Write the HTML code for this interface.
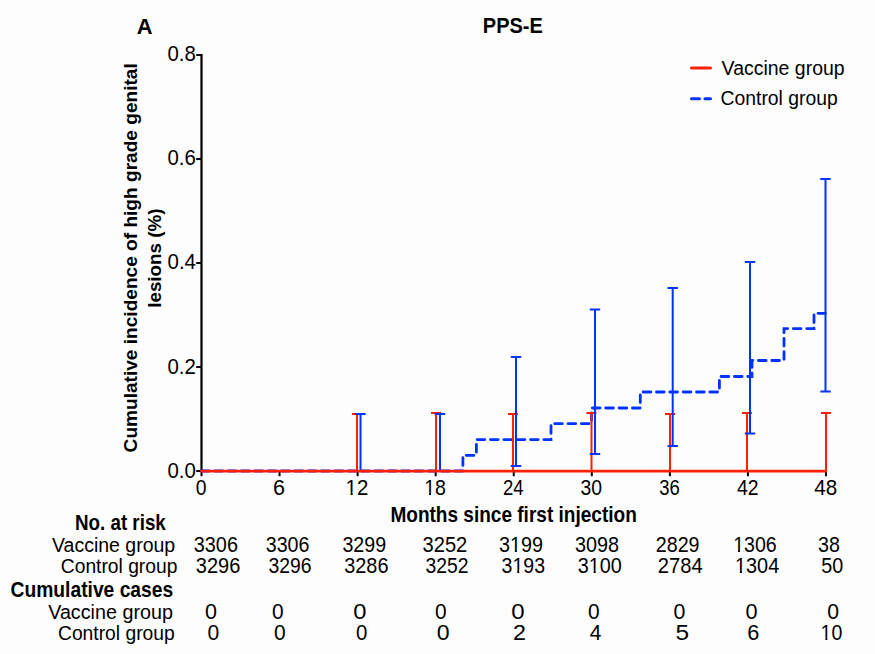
<!DOCTYPE html>
<html><head><meta charset="utf-8"><style>
html,body{margin:0;padding:0;background:#fdfdfd;}
svg{display:block;}
text{font-family:"Liberation Sans",sans-serif;font-size:20px;fill:#000;}
</style></head><body>
<svg width="875" height="654" viewBox="0 0 875 654">
<rect x="0" y="0" width="875" height="654" fill="#fdfdfd"/>
<g stroke="#000" stroke-width="2" fill="none">
<path d="M201.5 54 V471 H826" stroke-width="2.2"/>
<path d="M196.2 55.00 H201.5"/>
<path d="M196.2 159.00 H201.5"/>
<path d="M196.2 263.00 H201.5"/>
<path d="M196.2 367.00 H201.5"/>
<path d="M196.2 471.00 H201.5"/>
<path d="M201.50 471 V476.2"/>
<path d="M279.56 471 V476.2"/>
<path d="M357.62 471 V476.2"/>
<path d="M435.68 471 V476.2"/>
<path d="M513.74 471 V476.2"/>
<path d="M591.80 471 V476.2"/>
<path d="M669.86 471 V476.2"/>
<path d="M747.92 471 V476.2"/>
<path d="M825.98 471 V476.2"/>
</g>
<path d="M201.5 471 H462.9 V455.4 H476.4 V439.6 H551 V423.7 H591.5 V408 H640.3 V392 H719.4 V376.5 H752 V360.5 H784 V328.6 H814 V313.3 H825.4" fill="none" stroke="#0033ff" stroke-width="2.8" stroke-dasharray="7.7 5.649" stroke-dashoffset="0" stroke-linecap="round"/>
<g stroke="#ff2000" stroke-width="2" fill="none">
<path d="M357 471 V413 M352 414 H362"/>
<path d="M436 471 V412 M431 413 H441"/>
<path d="M513 471 V413 M508 414 H518"/>
<path d="M591.5 471 V412 M586.5 413 H596.5"/>
<path d="M670 471 V413 M665 414 H675"/>
<path d="M747 471 V412 M742 413 H752"/>
<path d="M826 471 V412 M821 413 H831"/>
</g>
<g stroke="#0033ff" stroke-width="2" fill="none">
<path d="M360.5 471 V413 M355.3 414 H365.7 M355.3 471 H365.7"/>
<path d="M440 471 V413 M434.8 414 H445.2 M434.8 471 H445.2"/>
<path d="M516 466 V356 M510.8 357 H521.2 M510.8 466 H521.2"/>
<path d="M595 454 V308.5 M589.8 309.5 H600.2 M589.8 454 H600.2"/>
<path d="M672.7 446 V287 M667.5 288 H677.9000000000001 M667.5 446 H677.9000000000001"/>
<path d="M750 433.4 V261 M744.8 262 H755.2 M744.8 433.4 H755.2"/>
<path d="M825.5 391.6 V178 M820.3 179 H830.7 M820.3 391.6 H830.7"/>
</g>
<path d="M200.4 471.1 H827" stroke="#ff2000" stroke-width="2.7" fill="none"/>
<path d="M691.5 67.9 H710.5" stroke="#ff2000" stroke-width="3" stroke-linecap="round"/>
<path d="M691.5 98.7 H710.5" stroke="#0033ff" stroke-width="3" stroke-linecap="round" stroke-dasharray="8.0 5.4"/>
<text transform="translate(136.80,33.80) scale(1,1.06)" font-weight="bold" textLength="15.81" lengthAdjust="spacingAndGlyphs">A</text>
<text transform="translate(482.80,33.00) scale(1,1.06)" font-weight="bold" textLength="60.01" lengthAdjust="spacingAndGlyphs">PPS-E</text>
<text transform="translate(167.50,60.70) scale(1,1.06)"  textLength="28.37" lengthAdjust="spacingAndGlyphs">0.8</text>
<text transform="translate(167.50,164.78) scale(1,1.06)"  textLength="28.37" lengthAdjust="spacingAndGlyphs">0.6</text>
<text transform="translate(167.50,269.15) scale(1,1.06)"  textLength="28.45" lengthAdjust="spacingAndGlyphs">0.4</text>
<text transform="translate(167.50,373.62) scale(1,1.06)"  textLength="28.37" lengthAdjust="spacingAndGlyphs">0.2</text>
<text transform="translate(167.50,477.90) scale(1,1.06)"  textLength="28.37" lengthAdjust="spacingAndGlyphs">0.0</text>
<text transform="translate(195.80,494.60) scale(1,1.06)"  textLength="10.76" lengthAdjust="spacingAndGlyphs">0</text>
<text transform="translate(272.88,494.60) scale(1,1.06)"  textLength="12.01" lengthAdjust="spacingAndGlyphs">6</text>
<text transform="translate(345.56,494.60) scale(1,1.06)"  textLength="22.73" lengthAdjust="spacingAndGlyphs">12</text>
<text transform="translate(424.24,494.60) scale(1,1.06)"  textLength="21.75" lengthAdjust="spacingAndGlyphs">18</text>
<text transform="translate(502.92,494.60) scale(1,1.06)"  textLength="20.61" lengthAdjust="spacingAndGlyphs">24</text>
<text transform="translate(580.60,494.60) scale(1,1.06)"  textLength="21.54" lengthAdjust="spacingAndGlyphs">30</text>
<text transform="translate(659.28,494.60) scale(1,1.06)"  textLength="20.56" lengthAdjust="spacingAndGlyphs">36</text>
<text transform="translate(736.96,494.60) scale(1,1.06)"  textLength="21.65" lengthAdjust="spacingAndGlyphs">42</text>
<text transform="translate(814.24,494.60) scale(1,1.06)"  textLength="22.93" lengthAdjust="spacingAndGlyphs">48</text>
<text x="721.60" y="75.00"  textLength="123.09" lengthAdjust="spacingAndGlyphs">Vaccine group</text>
<text x="720.60" y="104.50"  textLength="117.06" lengthAdjust="spacingAndGlyphs">Control group</text>
<text transform="translate(390.40,521.60) scale(1,1.08)" font-weight="bold" textLength="246.37" lengthAdjust="spacingAndGlyphs">Months since first injection</text>
<text transform="translate(75.00,529.80) scale(1,1.08)" font-weight="bold" textLength="90.79" lengthAdjust="spacingAndGlyphs">No. at risk</text>
<text x="52.00" y="551.90"  textLength="123.18" lengthAdjust="spacingAndGlyphs">Vaccine group</text>
<text x="60.80" y="572.70"  textLength="116.57" lengthAdjust="spacingAndGlyphs">Control group</text>
<text transform="translate(10.60,596.50) scale(1,1.08)" font-weight="bold" textLength="162.57" lengthAdjust="spacingAndGlyphs">Cumulative cases</text>
<text x="48.20" y="618.70"  textLength="124.70" lengthAdjust="spacingAndGlyphs">Vaccine group</text>
<text x="58.00" y="639.90"  textLength="116.72" lengthAdjust="spacingAndGlyphs">Control group</text>
<text transform="translate(193.80,551.90) scale(1,1.06)"  textLength="44.16" lengthAdjust="spacingAndGlyphs">3306</text>
<text transform="translate(265.80,551.90) scale(1,1.06)"  textLength="43.59" lengthAdjust="spacingAndGlyphs">3306</text>
<text transform="translate(342.40,551.90) scale(1,1.06)"  textLength="43.66" lengthAdjust="spacingAndGlyphs">3299</text>
<text transform="translate(422.60,551.90) scale(1,1.06)"  textLength="44.70" lengthAdjust="spacingAndGlyphs">3252</text>
<text transform="translate(499.00,551.90) scale(1,1.06)"  textLength="44.06" lengthAdjust="spacingAndGlyphs">3199</text>
<text transform="translate(575.00,551.90) scale(1,1.06)"  textLength="44.06" lengthAdjust="spacingAndGlyphs">3098</text>
<text transform="translate(655.80,551.90) scale(1,1.06)"  textLength="43.73" lengthAdjust="spacingAndGlyphs">2829</text>
<text transform="translate(733.20,551.90) scale(1,1.06)"  textLength="43.48" lengthAdjust="spacingAndGlyphs">1306</text>
<text transform="translate(818.00,551.90) scale(1,1.06)"  textLength="21.89" lengthAdjust="spacingAndGlyphs">38</text>
<text transform="translate(195.80,572.60) scale(1,1.06)"  textLength="44.58" lengthAdjust="spacingAndGlyphs">3296</text>
<text transform="translate(268.40,572.60) scale(1,1.06)"  textLength="43.08" lengthAdjust="spacingAndGlyphs">3296</text>
<text transform="translate(344.20,572.60) scale(1,1.06)"  textLength="44.25" lengthAdjust="spacingAndGlyphs">3286</text>
<text transform="translate(425.40,572.60) scale(1,1.06)"  textLength="43.03" lengthAdjust="spacingAndGlyphs">3252</text>
<text transform="translate(501.60,572.60) scale(1,1.06)"  textLength="43.39" lengthAdjust="spacingAndGlyphs">3193</text>
<text transform="translate(577.80,572.60) scale(1,1.06)"  textLength="44.06" lengthAdjust="spacingAndGlyphs">3100</text>
<text transform="translate(657.80,572.60) scale(1,1.06)"  textLength="44.79" lengthAdjust="spacingAndGlyphs">2784</text>
<text transform="translate(735.00,572.60) scale(1,1.06)"  textLength="44.21" lengthAdjust="spacingAndGlyphs">1304</text>
<text transform="translate(821.20,572.60) scale(1,1.06)"  textLength="21.99" lengthAdjust="spacingAndGlyphs">50</text>
<text transform="translate(205.00,618.80) scale(1,1.06)"  textLength="12.00" lengthAdjust="spacingAndGlyphs">0</text>
<text transform="translate(272.00,618.80) scale(1,1.06)"  textLength="11.64" lengthAdjust="spacingAndGlyphs">0</text>
<text transform="translate(353.20,618.80) scale(1,1.06)"  textLength="13.20" lengthAdjust="spacingAndGlyphs">0</text>
<text transform="translate(435.00,618.80) scale(1,1.06)"  textLength="11.64" lengthAdjust="spacingAndGlyphs">0</text>
<text transform="translate(511.20,618.80) scale(1,1.06)"  textLength="13.37" lengthAdjust="spacingAndGlyphs">0</text>
<text transform="translate(588.00,618.80) scale(1,1.06)"  textLength="11.64" lengthAdjust="spacingAndGlyphs">0</text>
<text transform="translate(673.60,618.80) scale(1,1.06)"  textLength="11.86" lengthAdjust="spacingAndGlyphs">0</text>
<text transform="translate(745.60,618.80) scale(1,1.06)"  textLength="12.09" lengthAdjust="spacingAndGlyphs">0</text>
<text transform="translate(827.20,618.80) scale(1,1.06)"  textLength="11.77" lengthAdjust="spacingAndGlyphs">0</text>
<text transform="translate(207.40,639.60) scale(1,1.06)"  textLength="11.74" lengthAdjust="spacingAndGlyphs">0</text>
<text transform="translate(274.00,639.60) scale(1,1.06)"  textLength="11.64" lengthAdjust="spacingAndGlyphs">0</text>
<text transform="translate(356.00,639.60) scale(1,1.06)"  textLength="11.37" lengthAdjust="spacingAndGlyphs">0</text>
<text transform="translate(436.80,639.60) scale(1,1.06)"  textLength="12.87" lengthAdjust="spacingAndGlyphs">0</text>
<text transform="translate(513.00,639.60) scale(1,1.06)"  textLength="12.97" lengthAdjust="spacingAndGlyphs">2</text>
<text transform="translate(589.80,639.60) scale(1,1.06)"  textLength="11.61" lengthAdjust="spacingAndGlyphs">4</text>
<text transform="translate(675.40,639.60) scale(1,1.06)"  textLength="13.59" lengthAdjust="spacingAndGlyphs">5</text>
<text transform="translate(747.20,639.60) scale(1,1.06)"  textLength="12.06" lengthAdjust="spacingAndGlyphs">6</text>
<text transform="translate(820.60,639.60) scale(1,1.06)"  textLength="21.76" lengthAdjust="spacingAndGlyphs">10</text>
<text transform="translate(136.70,452.40) rotate(-90) scale(1,0.94)" font-weight="bold" textLength="389.16" lengthAdjust="spacingAndGlyphs">Cumulative incidence of high grade genital</text>
<text transform="translate(160.90,307.80) rotate(-90) scale(1,0.94)" font-weight="bold" textLength="99.24" lengthAdjust="spacingAndGlyphs">lesions (%)</text>
<g transform="translate(345.56,494.60) scale(1,1.06)" fill="#fdfdfd"><rect x="0.86" y="-2.24" width="4.13" height="3.14"/><rect x="7.10" y="-2.24" width="3.62" height="3.14"/></g>
<g transform="translate(424.24,494.60) scale(1,1.06)" fill="#fdfdfd"><rect x="0.79" y="-2.24" width="3.98" height="3.14"/><rect x="6.80" y="-2.24" width="3.48" height="3.14"/></g>
<g transform="translate(499.00,551.90) scale(1,1.06)" fill="#fdfdfd"><rect x="11.82" y="-2.24" width="4.03" height="3.14"/><rect x="17.90" y="-2.24" width="3.52" height="3.14"/></g>
<g transform="translate(733.20,551.90) scale(1,1.06)" fill="#fdfdfd"><rect x="0.79" y="-2.24" width="3.98" height="3.14"/><rect x="6.80" y="-2.24" width="3.48" height="3.14"/></g>
<g transform="translate(501.60,572.60) scale(1,1.06)" fill="#fdfdfd"><rect x="11.63" y="-2.24" width="3.97" height="3.14"/><rect x="17.63" y="-2.24" width="3.47" height="3.14"/></g>
<g transform="translate(577.80,572.60) scale(1,1.06)" fill="#fdfdfd"><rect x="11.82" y="-2.24" width="4.03" height="3.14"/><rect x="17.90" y="-2.24" width="3.52" height="3.14"/></g>
<g transform="translate(735.00,572.60) scale(1,1.06)" fill="#fdfdfd"><rect x="0.82" y="-2.24" width="4.04" height="3.14"/><rect x="6.91" y="-2.24" width="3.53" height="3.14"/></g>
<g transform="translate(820.60,639.60) scale(1,1.06)" fill="#fdfdfd"><rect x="0.79" y="-2.24" width="3.98" height="3.14"/><rect x="6.80" y="-2.24" width="3.48" height="3.14"/></g>
</svg>
</body></html>
